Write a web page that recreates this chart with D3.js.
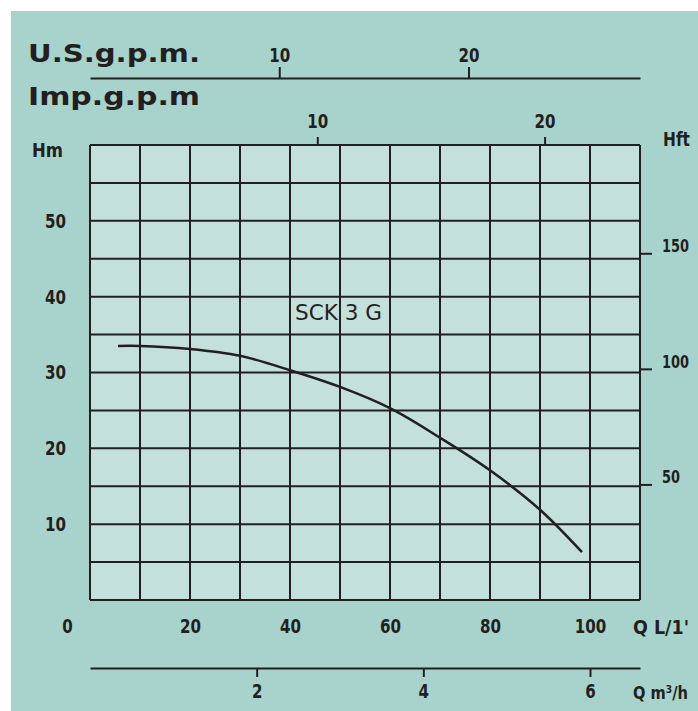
<!DOCTYPE html>
<html>
<head>
<meta charset="utf-8">
<script src="https://cdn.jsdelivr.net/npm/d3@7"></script>
<style>
  body { margin: 0; background: #fff; }
  svg { display: block; }
</style>
</head>
<body>
<svg id="plotSvg"></svg>
<script>
// pump curve SCK 3 G
var flowLmin = [5.6, 10, 20, 30, 40, 50, 60, 70, 80, 90, 98.4];
var headM = [33.5, 33.5, 33.1, 32.2, 30.3, 28.1, 25.3, 21.4, 17.1, 11.9, 6.3];
var curveName = "SCK 3 G";

var lminTicks = [0, 20, 40, 60, 80, 100];
var hmTicks = [10, 20, 30, 40, 50];
var hftTicks = [50, 100, 150];
var usTicks = [10, 20];
var impTicks = [10, 20];
var m3hTicks = [2, 4, 6];

var width = 698, height = 711;
var plot = { left: 90, right: 640, top: 145, bottom: 600 };
var ink = "#231f20";
var numFont = "'DejaVu Sans Condensed','Liberation Sans Narrow',sans-serif";

var svg = d3.select("#plotSvg").attr("width", width).attr("height", height);

svg.append("rect").attr("x", 11).attr("y", 11)
  .attr("width", width - 11).attr("height", height - 11)
  .attr("fill", "#a8d3cc");

var x = d3.scaleLinear().domain([0, 110]).range([plot.left, plot.right]);
var y = d3.scaleLinear().domain([0, 60]).range([plot.bottom, plot.top]);
var yFt = d3.scaleLinear().domain([0, 60 / 0.3048]).range([plot.bottom, plot.top]);
var xUS = d3.scaleLinear().domain([0, 110 / 3.785]).range([plot.left, plot.right]);
var xImp = d3.scaleLinear().domain([0, 110 / 4.546]).range([plot.left, plot.right]);
var xM3 = d3.scaleLinear().domain([0, 110 * 0.06]).range([plot.left, plot.right]);

// plot area + grid
svg.append("rect")
  .attr("x", plot.left).attr("y", plot.top)
  .attr("width", plot.right - plot.left).attr("height", plot.bottom - plot.top)
  .attr("fill", "#c4e0da");

var grid = svg.append("g").attr("stroke", ink).attr("stroke-width", 2);
grid.selectAll("line.v").data(d3.range(0, 111, 10))
  .enter().append("line").attr("class", "v")
  .attr("x1", function(d) { return x(d); }).attr("x2", function(d) { return x(d); })
  .attr("y1", plot.top).attr("y2", plot.bottom);
grid.selectAll("line.h").data(d3.range(0, 61, 5))
  .enter().append("line").attr("class", "h")
  .attr("x1", plot.left).attr("x2", plot.right)
  .attr("y1", function(d) { return y(d); }).attr("y2", function(d) { return y(d); });

function styleAxis(g, perChar, size) {
  perChar = perChar || 10.5;
  g.selectAll("line").attr("stroke", ink).attr("stroke-width", 2);
  g.selectAll("path").attr("stroke", ink).attr("stroke-width", 2);
  g.selectAll("text").attr("fill", ink)
    .attr("font-family", numFont).attr("font-weight", "bold")
    .attr("font-size", size || 20)
    .attr("textLength", function() { return this.textContent.length * perChar; })
    .attr("lengthAdjust", "spacingAndGlyphs");
}

var fmt = d3.format("d");

// left Hm axis
var gL = svg.append("g").attr("transform", "translate(" + plot.left + ",0)")
  .call(d3.axisLeft(y).tickValues(hmTicks).tickFormat(fmt).tickSize(0).tickPadding(24));
gL.select(".domain").remove();
styleAxis(gL);

// right Hft axis
var gR = svg.append("g").attr("transform", "translate(" + plot.right + ",0)")
  .call(d3.axisRight(yFt).tickValues(hftTicks).tickFormat(fmt).tickSize(12).tickPadding(10));
gR.select(".domain").remove();
styleAxis(gR, 9, 18);
gR.selectAll("text").attr("dy", "-0.1em");

// bottom L/min labels
var gB = svg.append("g").attr("transform", "translate(0," + plot.bottom + ")")
  .call(d3.axisBottom(x).tickValues(lminTicks).tickFormat(fmt).tickSize(0).tickPadding(19));
gB.select(".domain").remove();
styleAxis(gB);
gB.selectAll(".tick").filter(function(d) { return d === 0; })
  .select("text").attr("x", -23);

// m3/h axis
var gM = svg.append("g").attr("transform", "translate(0,668)")
  .call(d3.axisBottom(xM3).tickValues(m3hTicks).tickFormat(fmt).tickSize(9).tickSizeOuter(0).tickPadding(7));
styleAxis(gM);

// US gpm axis
var gU = svg.append("g").attr("transform", "translate(0,78)")
  .call(d3.axisTop(xUS).tickValues(usTicks).tickFormat(fmt).tickSize(11).tickSizeOuter(0).tickPadding(5));
styleAxis(gU);

// Imp gpm axis
var gI = svg.append("g").attr("transform", "translate(0," + plot.top + ")")
  .call(d3.axisTop(xImp).tickValues(impTicks).tickFormat(fmt).tickSize(8).tickSizeOuter(0).tickPadding(9));
gI.select(".domain").remove();
styleAxis(gI);

// unit labels
var unitFont = "'DejaVu Sans',sans-serif";
function label(tx, ty, txt, fam, size, len) {
  var t = svg.append("text").attr("x", tx).attr("y", ty).text(txt)
    .attr("font-family", fam).attr("font-weight", "bold").attr("font-size", size)
    .attr("fill", ink);
  if (len) t.attr("textLength", len).attr("lengthAdjust", "spacingAndGlyphs");
  return t;
}
label(28, 62, "U.S.g.p.m.", unitFont, 24, 172);
label(28, 105, "Imp.g.p.m", unitFont, 24, 172);
label(32, 157, "Hm", numFont, 20, 31);
label(663, 146, "Hft", numFont, 20, 27);
label(633, 634, "Q L/1'", numFont, 19, 56);
label(633, 699, "Q m³/h", numFont, 18, 55);

// curve
var line = d3.line()
  .x(function(d, i) { return x(flowLmin[i]); })
  .y(function(d) { return y(d); })
  .curve(d3.curveCatmullRom.alpha(0.5));

svg.append("path").datum(headM)
  .attr("d", line)
  .attr("fill", "none").attr("stroke", ink).attr("stroke-width", 2.5);

svg.append("text").attr("x", 295).attr("y", 320).text(curveName)
  .attr("font-family", "'Liberation Sans Narrow','DejaVu Sans Condensed',sans-serif")
  .attr("font-size", 21).attr("textLength", 87).attr("lengthAdjust", "spacingAndGlyphs")
  .attr("fill", ink);
</script>
</body>
</html>
